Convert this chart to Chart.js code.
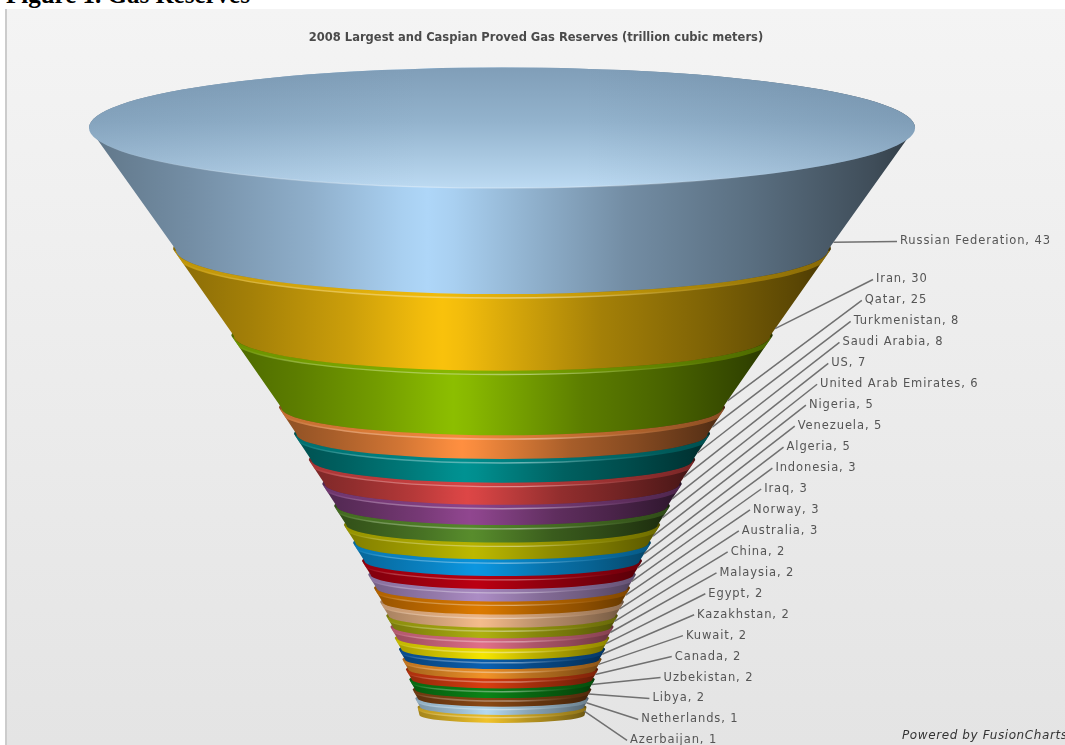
<!DOCTYPE html>
<html>
<head>
<meta charset="utf-8">
<title>Gas Reserves</title>
<script src="https://cdn.jsdelivr.net/npm/chart.js@4/dist/chart.umd.min.js"></script>
<style>
    html, body { margin: 0; padding: 0; background: #fff; overflow: hidden; }
    body { width: 1065px; height: 745px; position: relative; }
    h1 { position: absolute; left: 6px; top: -19px; margin: 0; font: bold 25px "Liberation Serif", serif; color: #000; }
    #box {
        position: absolute; left: 5px; top: 9px; width: 1058px; height: 736px;
        border-left: 2px solid #ccc;
        background: linear-gradient(#f4f4f4, #e4e4e4);
    }
    canvas { display: block; }
</style>
</head>
<body>
<h1>Figure 1. Gas Reserves</h1>
<div id="box"><canvas id="funnel" width="1058" height="736"></canvas></div>
<script>
// values (labels show them rounded)
const countries = ['Russian Federation', 'Iran', 'Qatar', 'Turkmenistan', 'Saudi Arabia', 'US',
    'United Arab Emirates', 'Nigeria', 'Venezuela', 'Algeria', 'Indonesia', 'Iraq', 'Norway',
    'Australia', 'China', 'Malaysia', 'Egypt', 'Kazakhstan', 'Kuwait', 'Canada', 'Uzbekistan',
    'Libya', 'Netherlands', 'Azerbaijan'];
const reserves = [43.4, 30.4, 25.1, 8.0, 7.9, 7.2, 6.4, 5.3, 5.0, 4.9, 3.4, 3.2, 3.4, 3.4,
    2.4, 2.4, 2.4, 2.0, 2.0, 2.0, 2.0, 1.6, 1.4, 1.2];
const sliceColors = ['#aed6f8', '#f9c20c', '#8cbe00', '#ff8f40', '#009292', '#dd4646', '#90468f',
    '#588c2c', '#bcb800', '#0b96e0', '#bb0012', '#ab8cc4', '#dc7a00', '#f4bc8c', '#aeb010',
    '#e06e88', '#f4e400', '#0a60b0', '#f09228', '#d83c10', '#0a8416', '#8a4814', '#b4d8f0', '#f0c22a'];

// funnel shape settings
const sliceGap = 1.75;      // every slice is a bit deeper than its value
const neckWidth = 0.2;      // bottom opening vs. top opening
const taper = 1.04;
const rimLip = 2.5;         // px a slice sticks out below the one above

const total = reserves.reduce((a, b) => a + b, 0);
const rimPoints = [];
let depth = 0, remaining = total;
reserves.forEach(v => {
    rimPoints.push({ x: neckWidth + (1 - neckWidth) * Math.pow(remaining / total, taper), y: depth });
    depth += v + sliceGap;
    remaining -= v;
});
rimPoints.push({ x: neckWidth, y: depth });

function ellipseDepth(w) { return 0.0305 * Math.pow(w, 1.26); }

function shade(hex, m) {
    const n = parseInt(hex.slice(1), 16);
    const c = [n >> 16, (n >> 8) & 255, n & 255].map(v => Math.round(v * m));
    return 'rgb(' + c.join(',') + ')';
}

const shadeStops = [[0, .55], [.12, .66], [.27, .82], [.38, .97], [.41, 1], [.44, .97],
    [.52, .85], [.65, .66], [.8, .52], [.95, .36], [1, .28]];

const funnelPlugin = {
    id: 'funnel3d',
    afterDatasetsDraw(chart) {
        const ctx = chart.ctx;
        const pts = chart.getDatasetMeta(0).data;
        const cx = chart.scales.x.getPixelForValue(0);
        const n = reserves.length;

        // lower slices first, each one gets covered by the slice above
        for (let i = n - 1; i >= 0; i--) {
            const topW = pts[i].x - cx;
            const botW = pts[i + 1].x - cx - (i < n - 1 ? rimLip : 0);
            const topY = pts[i].y, botY = pts[i + 1].y;
            const soften = i >= 8 ? 0.65 : 1;   // the small rings are not so dark at the sides
            const g = ctx.createLinearGradient(cx - topW, 0, cx + topW, 0);
            shadeStops.forEach(s => g.addColorStop(s[0], shade(sliceColors[i], Math.pow(s[1], soften))));

            ctx.save();
            ctx.beginPath();
            ctx.ellipse(cx, topY, topW, ellipseDepth(topW), 0, Math.PI, 2 * Math.PI);
            ctx.lineTo(cx + botW, botY);
            ctx.ellipse(cx, botY, botW, ellipseDepth(botW), 0, 0, Math.PI);
            ctx.closePath();
            ctx.fillStyle = g;
            ctx.fill();
            ctx.clip();

            if (i > 0) {
                const off = Math.min(3.5, (botY - topY) * 0.3);

                // rim under the slice above is brighter than the body, mostly at the tips
                const rim = ctx.createLinearGradient(cx - topW, 0, cx + topW, 0);
                rim.addColorStop(0, shade(sliceColors[i], 0.85));
                rim.addColorStop(0.4, shade(sliceColors[i], 0.95));
                rim.addColorStop(0.8, shade(sliceColors[i], 0.75));
                rim.addColorStop(1, shade(sliceColors[i], 0.65));
                ctx.beginPath();
                ctx.ellipse(cx, topY + off / 2, topW - 1, ellipseDepth(topW), 0, 0, Math.PI);
                ctx.strokeStyle = rim;
                ctx.globalAlpha = 0.7;
                ctx.lineWidth = off + 1;
                ctx.stroke();
                ctx.globalAlpha = 1;

                // thin light line just under the slice above
                const hl = ctx.createLinearGradient(cx - topW, 0, cx + topW, 0);
                hl.addColorStop(0, 'rgba(255,255,255,0)');
                hl.addColorStop(0.12, 'rgba(255,255,255,0.22)');
                hl.addColorStop(0.55, 'rgba(255,255,255,0.42)');
                hl.addColorStop(0.75, 'rgba(255,255,255,0.1)');
                hl.addColorStop(0.9, 'rgba(255,255,255,0)');
                ctx.beginPath();
                ctx.ellipse(cx, topY + off, topW - 2, ellipseDepth(topW), 0, 0, Math.PI);
                ctx.strokeStyle = hl;
                ctx.lineWidth = 1.4;
                ctx.stroke();
            }
            ctx.restore();
        }

        // open top of the funnel
        const w0 = pts[0].x - cx, y0 = pts[0].y, r0 = ellipseDepth(w0);
        const cap = ctx.createLinearGradient(0, y0 - r0, 0, y0 + r0);
        cap.addColorStop(0, '#809eb8');
        cap.addColorStop(0.45, '#93b3cd');
        cap.addColorStop(1, '#bcdaf2');
        ctx.beginPath();
        ctx.ellipse(cx, y0, w0, r0, 0, 0, 2 * Math.PI);
        ctx.fillStyle = cap;
        ctx.fill();
        const capSide = ctx.createLinearGradient(cx - w0, 0, cx + w0, 0);
        capSide.addColorStop(0, 'rgba(70,95,120,0.18)');
        capSide.addColorStop(0.4, 'rgba(70,95,120,0)');
        capSide.addColorStop(0.6, 'rgba(70,95,120,0)');
        capSide.addColorStop(1, 'rgba(70,95,120,0.25)');
        ctx.fillStyle = capSide;
        ctx.fill();
        const capLine = ctx.createLinearGradient(cx - w0, 0, cx + w0, 0);
        capLine.addColorStop(0, 'rgba(255,255,255,0)');
        capLine.addColorStop(0.35, 'rgba(255,255,255,0.35)');
        capLine.addColorStop(0.6, 'rgba(255,255,255,0.3)');
        capLine.addColorStop(0.85, 'rgba(255,255,255,0)');
        ctx.beginPath();
        ctx.ellipse(cx, y0, w0, r0, 0, 0, Math.PI);
        ctx.strokeStyle = capLine;
        ctx.lineWidth = 1.2;
        ctx.stroke();

        // labels stack down the right side, leader goes back to the slice edge
        ctx.font = '11.5px "DejaVu Sans"';
        ctx.letterSpacing = '0.9px';
        ctx.textBaseline = 'middle';
        ctx.textAlign = 'left';
        for (let i = 0; i < n; i++) {
            const lx = i === 0 ? 893 : 869 - (i - 1) * 11.18;
            const ly = i === 0 ? 232.5 : 270.5 + (i - 1) * 20.95;
            const h = pts[i + 1].y - pts[i].y;
            const sy = pts[i + 1].y - Math.min(h / 2, 7);
            const t = (sy - pts[i].y) / h;
            const sx = pts[i].x + (pts[i + 1].x - rimLip - pts[i].x) * t;
            ctx.beginPath();
            ctx.moveTo(sx, sy);
            ctx.lineTo(lx - 3, ly);
            ctx.strokeStyle = '#707070';
            ctx.lineWidth = 1.5;
            ctx.stroke();
            ctx.fillStyle = '#555';
            ctx.fillText(countries[i] + ', ' + Math.round(reserves[i]), lx, ly);
        }
        ctx.letterSpacing = '0.6px';
        ctx.font = 'italic 12px "DejaVu Sans"';
        ctx.fillStyle = '#333';
        ctx.fillText('Powered by FusionCharts', 895, 727);
        ctx.letterSpacing = '0px';
    }
};

new Chart(document.getElementById('funnel'), {
    type: 'scatter',
    data: {
        datasets: [{
            label: 'Proved gas reserves',
            data: rimPoints,
            pointRadius: 0,
            showLine: false
        }]
    },
    options: {
        responsive: false,
        animation: false,
        layout: { padding: { left: 0, right: 0, top: 0, bottom: 30 } },
        plugins: {
            legend: { display: false },
            tooltip: { enabled: false },
            title: {
                display: true,
                text: '2008 Largest and Caspian Proved Gas Reserves (trillion cubic meters)',
                color: '#4a4a4a',
                font: { family: '"DejaVu Sans"', size: 11.5, weight: 'bold' },
                padding: { top: 22, bottom: 83 }
            }
        },
        scales: {
            // axis range leaves room for the labels on the right of the funnel
            x: { type: 'linear', min: -1.1985, max: 1.363, display: false },
            y: { type: 'linear', min: 0, max: depth, reverse: true, display: false }
        }
    },
    plugins: [funnelPlugin]
});
</script>
</body>
</html>
